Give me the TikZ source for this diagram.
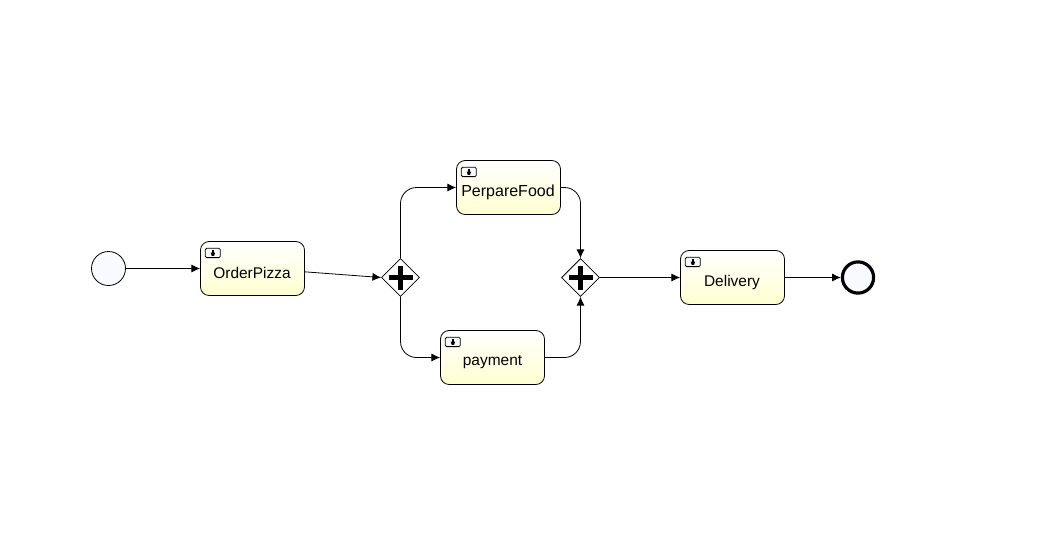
\documentclass[tikz,border=0pt]{standalone}
\usepackage{fontspec}
\setmainfont{Liberation Sans}
\usetikzlibrary{arrows.meta,shapes.geometric,calc}
\tikzset{
  x=0.75pt,y=-0.75pt,
  taskbox/.style={draw=black,line width=0.6pt,rounded corners=6.5pt,minimum width=78pt,minimum height=40.5pt,inner sep=0pt,top color=white,bottom color=yellowend},
  tasklabel/.style={font=\fontsize{11.6}{14}\selectfont,text=black,inner sep=0pt},
  flow/.style={draw=black,line width=0.6pt,-{Latex[length=6.5pt,width=6pt]},rounded corners=12pt},
  startev/.style={circle,draw=black,line width=0.6pt,fill=eventfill,minimum size=25.5pt,inner sep=0pt},
  endev/.style={circle,draw=black,line width=2.4pt,fill=eventfill,minimum size=23.4pt,inner sep=0pt},
  gate/.style={diamond,draw=black,line width=0.6pt,fill=white,minimum width=28.5pt,minimum height=28.5pt,inner sep=0pt,aspect=1},
  plusmark/.style={draw=black,line width=3.2pt},
  subicon/.style={draw=black,line width=0.6pt,fill=eventfill,rounded corners=1pt},
}
\definecolor{yellowend}{HTML}{FFFFD0}
\definecolor{eventfill}{HTML}{F8FAFF}
\newcommand{\subproc}[1]{%
  \draw[subicon] ($(#1.north west)+(5.2,7.2)$) rectangle ($(#1.north west)+(20.2,16.5)$);
  \fill[black] ($(#1.north west)+(12.2,9)$) rectangle ($(#1.north west)+(13.4,11.5)$);
  \fill[black] ($(#1.north west)+(10.6,11.5)$) -- ($(#1.north west)+(15,11.5)$) -- ($(#1.north west)+(14,14.8)$) -- ($(#1.north west)+(11.6,14.8)$) -- cycle;
}
\newcommand{\plusin}[1]{%
  \draw[plusmark] ($(#1.center)+(-12,0)$) -- ($(#1.center)+(12,0)$);
  \draw[plusmark] ($(#1.center)+(0,-12)$) -- ($(#1.center)+(0,12)$);
}
\begin{document}
\begin{tikzpicture}
\useasboundingbox (0,0) rectangle (1037,533);
\fill[white] (0,0) rectangle (1037,533);
\node[startev] (start) at (108.5,268.5) {};
\node[taskbox] (order) at (252.5,268.5) {};
\node[gate] (gw1) at (400.5,277.5) {};
\node[taskbox] (food) at (508.5,187.5) {};
\node[taskbox] (pay) at (492.5,357.5) {};
\node[gate] (gw2) at (580.5,277.5) {};
\node[taskbox] (deliv) at (732.5,277.5) {};
\node[endev] (stop) at (858,277.5) {};
\node[tasklabel] (orderlbl) at (252,273) {OrderPizza};
\node[tasklabel,font=\fontsize{12}{14}\selectfont] (foodlbl) at (508,192.5) {PerpareFood};
\node[tasklabel] (paylbl) at (492.5,362.5) {payment};
\node[tasklabel] (delivlbl) at (732,282.5) {Delivery};
\subproc{order}\subproc{food}\subproc{pay}\subproc{deliv}
\plusin{gw1}\plusin{gw2}
\draw[flow] (start) -- (order);
\draw[flow] ([yshift=-2.5pt]order.east) -- (gw1.west);
\draw[flow] (gw1.north) |- (food.west);
\draw[flow] (gw1.south) |- (pay.west);
\draw[flow] (food.east) -| (gw2.north);
\draw[flow] (pay.east) -| (gw2.south);
\draw[flow] (gw2.east) -- (deliv.west);
\draw[flow] (deliv.east) -- (stop.west);
\end{tikzpicture}
\end{document}
